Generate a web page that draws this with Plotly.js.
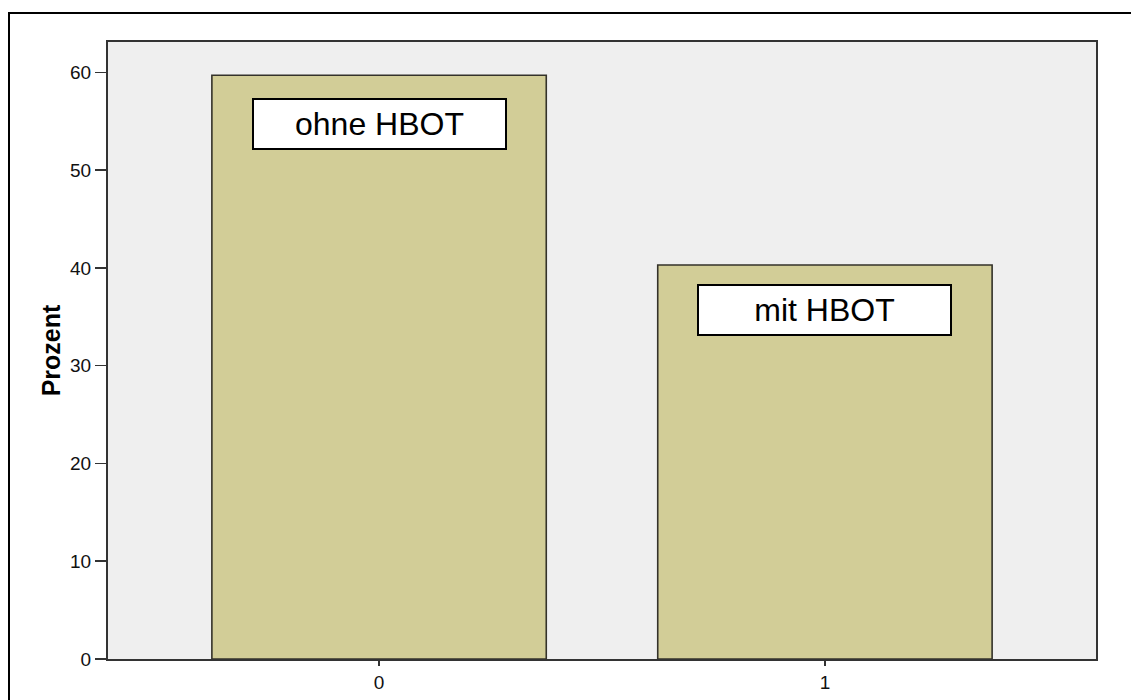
<!DOCTYPE html>
<html>
<head>
<meta charset="utf-8">
<script src="https://cdn.plot.ly/plotly-3.0.1.min.js"></script>
<style>
  html, body { margin: 0; padding: 0; background: #ffffff; overflow: hidden; width: 1131px; height: 700px; }
  #wrap { position: relative; width: 1131px; height: 700px; overflow: hidden; }
  #chart { position: absolute; left: 0; top: 0; width: 1131px; height: 700px; }
  #frame { position: absolute; left: 8px; top: 12px; width: 3000px; height: 3000px;
           border-left: 2.5px solid #000; border-top: 2.5px solid #000; pointer-events: none; }
</style>
</head>
<body>
<div id="wrap">
  <div id="chart"></div>
  <div id="frame"></div>
</div>
<script>
// Data
var categories = ["0", "1"];
var percentValues = [59.7, 40.3];
var groupLabels = ["ohne HBOT", "mit HBOT"];
var yTickValues = [0, 10, 20, 30, 40, 50, 60];

var trace = {
  type: "bar",
  x: categories,
  y: percentValues,
  width: 0.75,
  marker: {
    color: "#d2cd97",
    line: { color: "#34322a", width: 1.6 }
  },
  hoverinfo: "x+y"
};

var labelY = [54.7, 35.7];
var annotations = groupLabels.map(function (txt, i) {
  return {
    x: categories[i],
    y: labelY[i],
    xref: "x",
    yref: "y",
    text: txt,
    showarrow: false,
    font: { family: "Liberation Sans, Arial, sans-serif", size: 32, color: "#000000" },
    bgcolor: "#ffffff",
    bordercolor: "#000000",
    borderwidth: 2,
    borderpad: 0,
    width: 251,
    height: 48,
    xanchor: "center",
    yanchor: "middle"
  };
});

var layout = {
  width: 1131,
  height: 700,
  margin: { l: 108, r: 35, t: 42, b: 41 },
  paper_bgcolor: "#ffffff",
  plot_bgcolor: "#efefef",
  showlegend: false,
  font: { family: "Liberation Sans, Arial, sans-serif", color: "#111111" },
  xaxis: {
    type: "category",
    range: [-0.608, 1.608],
    tickvals: categories,
    ticktext: categories,
    ticks: "outside",
    ticklen: 5,
    tickwidth: 1.5,
    tickcolor: "#333333",
    tickfont: { size: 19, color: "#111111" },
    showline: true,
    linecolor: "#333333",
    linewidth: 2,
    mirror: true,
    showgrid: false,
    zeroline: false,
    fixedrange: true
  },
  yaxis: {
    range: [0, 63.1],
    tickvals: yTickValues,
    ticktext: yTickValues.map(String),
    ticks: "outside",
    ticklen: 11,
    tickwidth: 1.5,
    tickcolor: "#333333",
    tickfont: { size: 19, color: "#111111" },
    showline: true,
    linecolor: "#333333",
    linewidth: 2,
    mirror: true,
    showgrid: false,
    zeroline: false,
    fixedrange: true,
    title: {
      text: "<b>Prozent</b>",
      font: { size: 25, color: "#000000", family: "Liberation Sans, Arial, sans-serif" },
      standoff: 2
    }
  },
  annotations: annotations
};

Plotly.newPlot("chart", [trace], layout, { displayModeBar: false, staticPlot: true });
</script>
</body>
</html>
